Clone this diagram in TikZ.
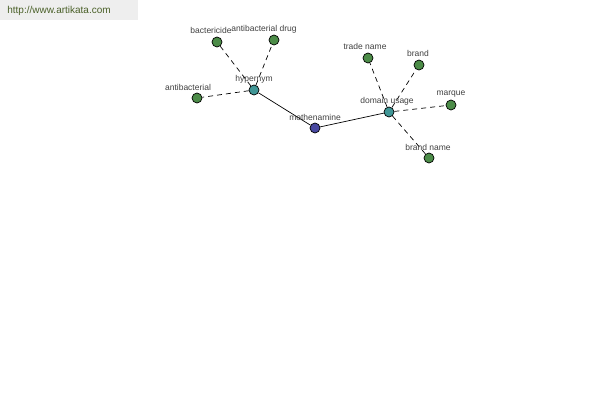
\documentclass[tikz,border=0pt]{standalone}
\usepackage{fontspec}
\setmainfont{Liberation Sans}
\usetikzlibrary{arrows,positioning,shapes,fit,calc}
\definecolor{leafgreen}{RGB}{76,140,72}
\definecolor{hubteal}{RGB}{64,150,150}
\definecolor{rootblue}{RGB}{72,72,160}
\definecolor{bannergrey}{RGB}{238,238,238}
\definecolor{bannertext}{RGB}{74,96,40}
\begin{document}
\begin{tikzpicture}[x=1pt, y=-1pt, line width=0.7pt, main node/.style={circle,draw,minimum size=10pt,inner sep=0pt,fill=leafgreen},lbl/.style={font=\fontsize{8.5}{9}\selectfont,text=black!75,inner sep=0pt},dash edge/.style={dash pattern=on 5pt off 4pt}]%
\useasboundingbox (0,0) rectangle (600,400);
\fill[bannergrey] (0,0) rectangle (138,20);
\node[font=\fontsize{10}{11}\selectfont,text=bannertext,anchor=west,inner sep=0pt] (site) at (7,11) {http://www.artikata.com};
\begin{scope}
\node[main node,fill=rootblue] (v1) at (315,128) {};
\node[main node,fill=hubteal] (v2) at (254,90) {};
\node[main node,fill=hubteal] (v3) at (389,112) {};
\node[main node] (v4) at (217,42) {};
\node[main node] (v5) at (274,40) {};
\node[main node] (v6) at (197,98) {};
\node[main node] (v7) at (368,58) {};
\node[main node] (v8) at (419,65) {};
\node[main node] (v9) at (451,105) {};
\node[main node] (v10) at (429,158) {};
\end{scope}
\begin{scope}
\draw (v1) edge node{} (v2);
\draw (v1) edge node{} (v3);
\draw[dash edge] (v2) edge node{} (v4);
\draw[dash edge] (v2) edge node{} (v5);
\draw[dash edge] (v2) edge node{} (v6);
\draw[dash edge] (v3) edge node{} (v7);
\draw[dash edge] (v3) edge node{} (v8);
\draw[dash edge] (v3) edge node{} (v9);
\draw[dash edge] (v3) edge node{} (v10);
\end{scope}
\begin{scope}[every node/.style={lbl}]
\node (l1) at (315,117) {methenamine};
\node (l2) at (254,79) {hypernym};
\node (l3) at (387,101) {domain usage};
\node (l4) at (211,30) {bactericide};
\node (l5) at (264,29) {antibacterial drug};
\node (l6) at (188,87) {antibacterial};
\node (l7) at (365,46) {trade name};
\node (l8) at (418,53) {brand};
\node (l9) at (451,94) {marque};
\node (l10) at (428,147) {brand name};
\end{scope}
\end{tikzpicture}
\end{document}
